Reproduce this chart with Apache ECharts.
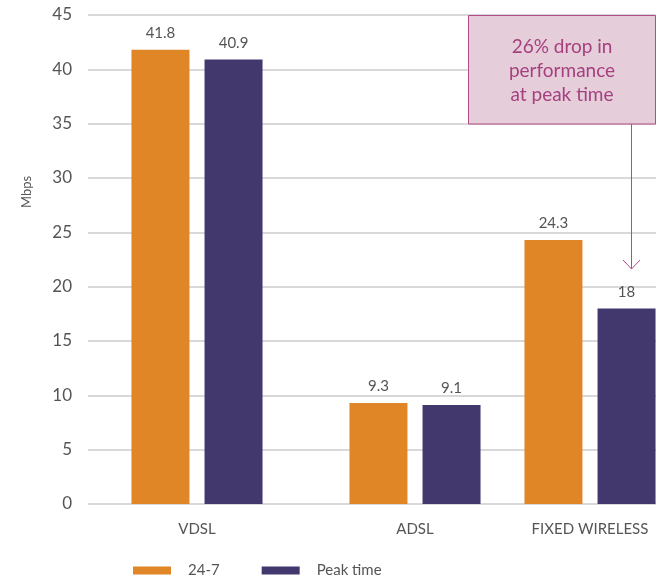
<!DOCTYPE html>
<html>
<head>
<meta charset="utf-8">
<script src="https://cdn.jsdelivr.net/npm/echarts@6/dist/echarts.min.js"></script>
<style>
  html, body { margin: 0; padding: 0; background: #fff; }
  #chart { width: 670px; height: 577px; }
</style>
</head>
<body>
<div id="chart"></div>
<script>
// Download speed by connection type
const categories = ['VDSL', 'ADSL', 'FIXED WIRELESS'];
const allDay = [41.8, 9.3, 24.3];      // 24-7 average
const peakTime = [40.9, 9.1, 18];      // peak time average
const seriesNames = ['24-7', 'Peak time'];
const yMin = 0, yMax = 45, yStep = 5;
const unitLabel = 'Mbps';
const noteLines = ['26% drop in', 'performance', 'at peak time'];

const FONT = 'Lato, "Open Sans", sans-serif';
const ORANGE = '#E08626';
const PURPLE = '#43386E';
const GRID_LINE = '#cccccc';
const TEXT = '#555555';

// One grid per category so each group sits in its own column
const edges = [88, 306, 524, 656];
const plotTop = 15, plotBottom = 73;

const grids = [], xAxes = [], yAxes = [], series = [];
categories.forEach((cat, i) => {
  grids.push({ left: edges[i], width: edges[i + 1] - edges[i], top: plotTop, bottom: plotBottom });
  xAxes.push({
    type: 'category', gridIndex: i, data: [cat],
    axisLine: { show: false }, axisTick: { show: false },
    axisLabel: { color: TEXT, fontFamily: FONT, fontSize: 15, margin: 18 }
  });
  yAxes.push({
    type: 'value', gridIndex: i, min: yMin, max: yMax, interval: yStep,
    axisLine: { show: false }, axisTick: { show: false },
    axisLabel: { show: i === 0, color: TEXT, fontFamily: FONT, fontSize: 17, margin: 16 },
    splitLine: { lineStyle: { color: GRID_LINE, width: 1.5 } }
  });
  const label = { show: true, position: 'top', distance: 9, color: TEXT, fontFamily: FONT, fontSize: 15 };
  series.push({
    type: 'bar', name: seriesNames[0], xAxisIndex: i, yAxisIndex: i,
    data: [allDay[i]], barWidth: 58, barGap: '26%',
    itemStyle: { color: ORANGE }, label
  });
  series.push({
    type: 'bar', name: seriesNames[1], xAxisIndex: i, yAxisIndex: i,
    data: [peakTime[i]], barWidth: 58, barGap: '26%',
    itemStyle: { color: PURPLE }, label
  });
});

const NOTE_STROKE = '#B04C86';
const NOTE_FILL = '#E5CDDA';
const NOTE_TEXT = '#A53F7E';

const chart = echarts.init(document.getElementById('chart'), null, { renderer: 'canvas' });
chart.setOption({
  animation: false,
  backgroundColor: '#ffffff',
  grid: grids,
  xAxis: xAxes,
  yAxis: yAxes,
  series: series,
  legend: {
    data: seriesNames,
    left: 133, top: 563, padding: 0,
    itemWidth: 38, itemHeight: 8, itemGap: 42,
    icon: 'rect',
    textStyle: { color: TEXT, fontFamily: FONT, fontSize: 15, padding: [0, 0, 0, 12] }
  },
  graphic: [
    {
      type: 'text', x: 27, y: 192, rotation: Math.PI / 2,
      style: { text: unitLabel, fill: TEXT, font: '13px ' + FONT, align: 'center', verticalAlign: 'middle' }
    },
    {
      type: 'rect', shape: { x: 468.5, y: 15.5, width: 187, height: 108.5 },
      style: { fill: NOTE_FILL, stroke: NOTE_STROKE, lineWidth: 1 }, z: 100
    },
    {
      type: 'text', x: 562, y: 71, z: 101,
      style: {
        text: noteLines.join('\n'), fill: NOTE_TEXT, font: '19px ' + FONT,
        align: 'center', verticalAlign: 'middle', lineHeight: 24
      }
    },
    {
      type: 'polyline', shape: { points: [[631.5, 124], [631.5, 269]] },
      style: { stroke: NOTE_STROKE, lineWidth: 1, fill: null }, z: 100
    },
    {
      type: 'polyline', shape: { points: [[623, 260], [631.5, 269], [640, 260]] },
      style: { stroke: NOTE_STROKE, lineWidth: 1, fill: null }, z: 100
    }
  ]
});
</script>
</body>
</html>
